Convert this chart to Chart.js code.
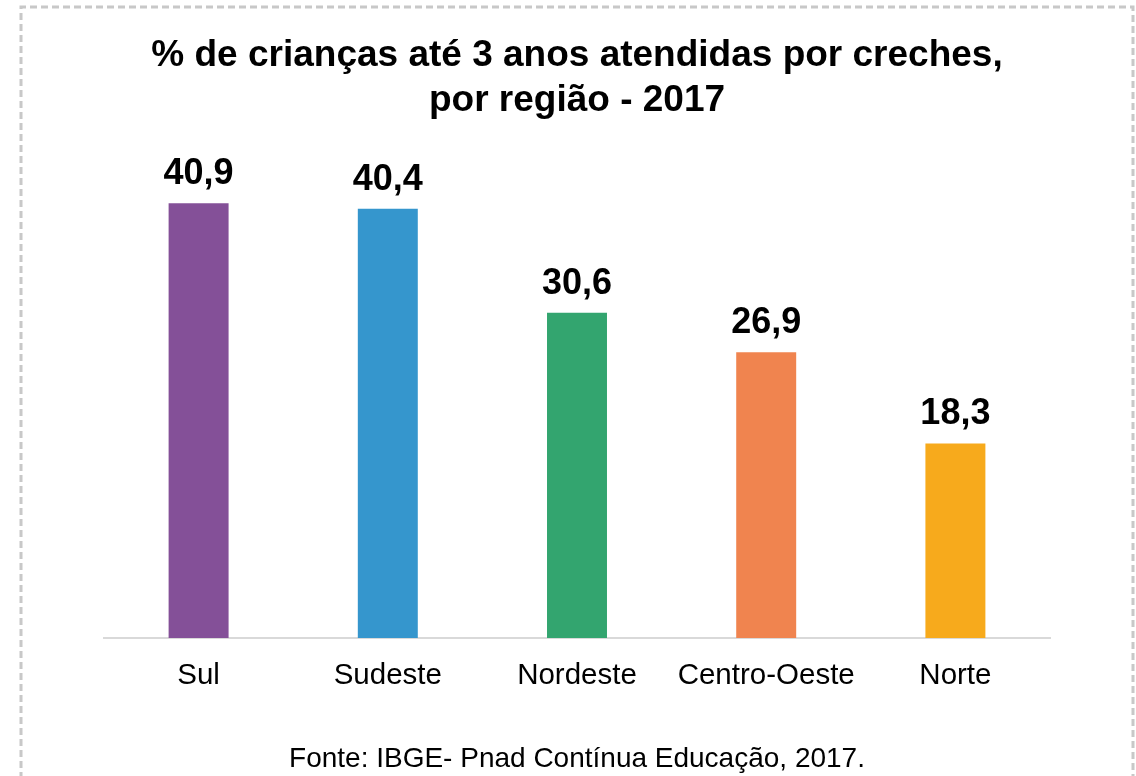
<!DOCTYPE html>
<html lang="pt-BR">
<head>
  <meta charset="UTF-8">
  <title>Creches por região - 2017</title>
  <script src="https://cdn.jsdelivr.net/npm/chart.js"></script>
  <style>
    html, body { margin: 0; padding: 0; background: #fff; }
    #wrap { position: relative; width: 1136px; height: 776px; }
    #chart { position: absolute; left: 0; top: 0; }
  </style>
</head>
<body>
  <div id="wrap">
    <canvas id="chart" width="1136" height="776"></canvas>
  </div>

  <script>
    const regioes = ['Sul', 'Sudeste', 'Nordeste', 'Centro-Oeste', 'Norte'];
    const percentuais = [40.9, 40.4, 30.6, 26.9, 18.3];
    const cores = ['#845098', '#3596cd', '#33a56f', '#f0844f', '#f7aa1c'];
    const titulo = ['% de crianças até 3 anos atendidas por creches,', 'por região - 2017'];
    const fonte = 'Fonte: IBGE- Pnad Contínua Educação, 2017.';

    const FONT = "Arial, 'Liberation Sans', sans-serif";

    // dashed frame around the picture
    const moldura = {
      id: 'moldura',
      beforeDraw(chart) {
        const ctx = chart.ctx;
        ctx.save();
        ctx.strokeStyle = '#c8c8c8';
        ctx.lineWidth = 3;
        ctx.setLineDash([7, 4]);
        ctx.beginPath();
        ctx.moveTo(21, 790);
        ctx.lineTo(21, 7);
        ctx.lineTo(1133, 7);
        ctx.lineTo(1133, 790);
        ctx.stroke();
        ctx.restore();
      }
    };

    // value labels above each bar
    const rotulos = {
      id: 'rotulos',
      afterDatasetsDraw(chart) {
        const ctx = chart.ctx;
        const meta = chart.getDatasetMeta(0);
        ctx.save();
        ctx.font = 'bold 36px ' + FONT;
        ctx.fillStyle = '#000';
        ctx.textAlign = 'center';
        ctx.textBaseline = 'middle';
        meta.data.forEach((bar, i) => {
          const txt = percentuais[i].toFixed(1).replace('.', ',');
          ctx.fillText(txt, bar.x, bar.y - 29);
        });
        ctx.restore();
      }
    };

    new Chart(document.getElementById('chart'), {
      type: 'bar',
      data: {
        labels: regioes,
        datasets: [{
          data: percentuais,
          backgroundColor: cores,
          barPercentage: 0.634,
          categoryPercentage: 0.5
        }]
      },
      options: {
        responsive: false,
        animation: false,
        layout: { padding: { top: 34, left: 104, right: 86, bottom: 0 } },
        plugins: {
          legend: { display: false },
          tooltip: { enabled: false },
          title: {
            display: true,
            text: titulo,
            color: '#000',
            font: { family: FONT, size: 37, weight: 'bold', lineHeight: 1.2 },
            padding: { top: 0, bottom: 37 }
          },
          subtitle: {
            display: true,
            position: 'bottom',
            text: fonte,
            color: '#000',
            font: { family: FONT, size: 28, weight: 'normal', lineHeight: 1.2 },
            padding: { top: 37, bottom: 0 }
          }
        },
        scales: {
          x: {
            grid: { display: false },
            border: { display: true, color: '#d9d9d9', width: 2 },
            ticks: {
              color: '#000',
              padding: 12,
              font: { family: FONT, size: 29.5 }
            }
          },
          y: {
            display: false,
            min: 0,
            max: 45
          }
        }
      },
      plugins: [moldura, rotulos]
    });
  </script>
</body>
</html>
